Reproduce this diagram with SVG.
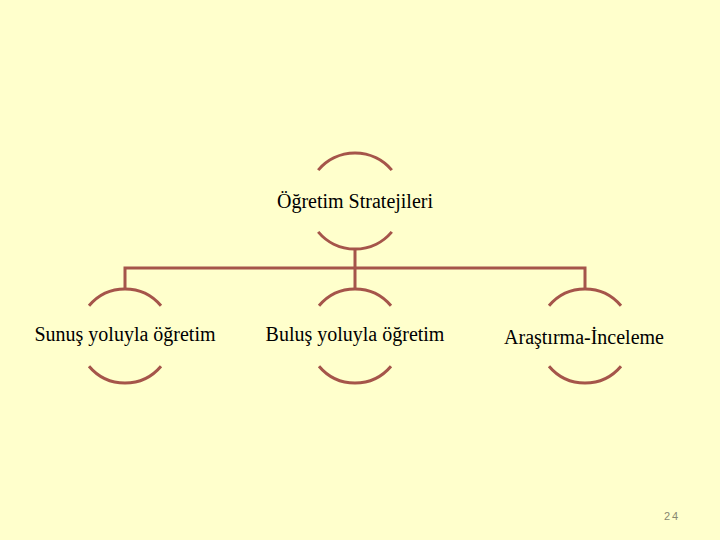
<svg xmlns="http://www.w3.org/2000/svg" width="720" height="540" viewBox="0 0 720 540">
<style>
.arc{fill:none;stroke:#A5554A;stroke-width:3;stroke-linecap:butt}
.ln{fill:none;stroke:#A5554A;stroke-width:3}
.t{font-family:'Liberation Serif','Times New Roman','DejaVu Serif',serif;font-size:20px;fill:#000;text-anchor:middle}
.pg{font-family:'Liberation Sans',sans-serif;font-size:11px;fill:#888870;letter-spacing:2px}
</style>
<rect width="720" height="540" fill="#FFFFCC"/>
<g id="connectors">
<path class="ln" d="M125,288 V268 H585 V288 M355,249 V288"/>
</g>
<g id="root">
<path class="arc" d="M318.2,170.1 A48,48 0 0 1 391.8,170.1"/>
<path class="arc" d="M318.2,231.9 A48,48 0 0 0 391.8,231.9"/>
<text class="t" x="355" y="208">Öğretim Stratejileri</text>
</g>
<g id="sunus">
<path class="arc" d="M89,305.8 A47,47 0 0 1 161,305.8"/>
<path class="arc" d="M89,366.2 A47,47 0 0 0 161,366.2"/>
<text class="t" x="125" y="341">Sunuş yoluyla öğretim</text>
</g>
<g id="bulus">
<path class="arc" d="M319,305.8 A47,47 0 0 1 391,305.8"/>
<path class="arc" d="M319,366.2 A47,47 0 0 0 391,366.2"/>
<text class="t" x="355" y="341">Buluş yoluyla öğretim</text>
</g>
<g id="arastirma">
<path class="arc" d="M549,305.8 A47,47 0 0 1 621,305.8"/>
<path class="arc" d="M549,366.2 A47,47 0 0 0 621,366.2"/>
<text class="t" x="584" y="344">Araştırma-İnceleme</text>
</g>
<text class="pg" x="664" y="520">24</text>
</svg>
